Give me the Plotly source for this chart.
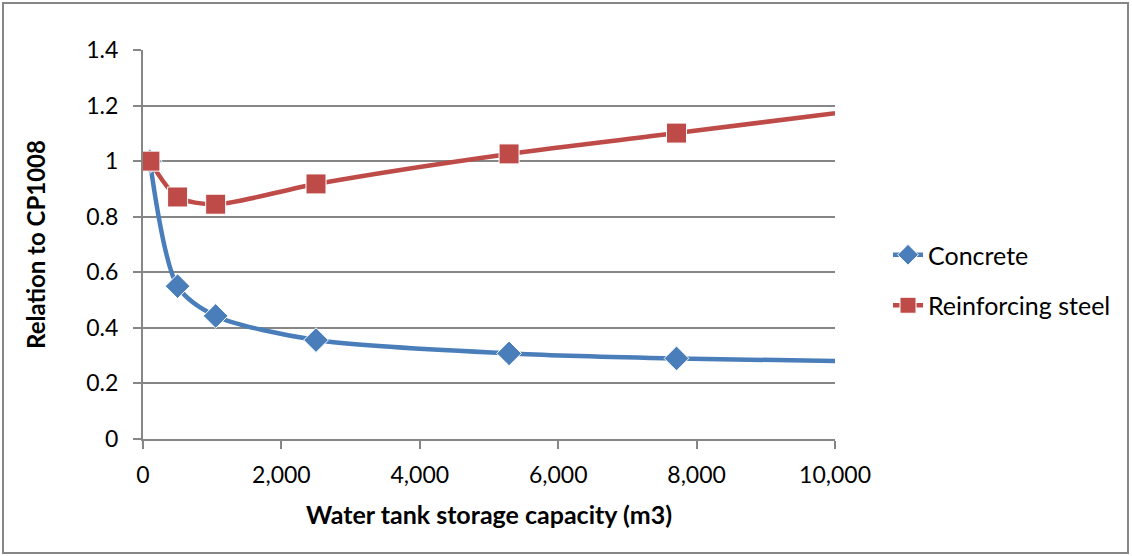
import plotly.graph_objects as go

capacity = [100, 500, 1050, 2500, 5290, 7710, 12000]
concrete = [1.0, 0.55, 0.443, 0.356, 0.308, 0.29, 0.272]
steel = [1.0, 0.871, 0.845, 0.918, 1.026, 1.101, 1.235]
marker_visible = [1, 1, 1, 1, 1, 1, 0]

y_ticks = [0, 0.2, 0.4, 0.6, 0.8, 1.0, 1.2, 1.4]
x_ticks = [0, 2000, 4000, 6000, 8000, 10000]

FONT = "Lato, 'Open Sans', sans-serif"

fig = go.Figure()
fig.add_trace(go.Scatter(
    x=capacity, y=concrete, name="Concrete", mode="lines+markers",
    line=dict(color="#4A7EBB", width=4.5, shape="spline", smoothing=0.8),
    marker=dict(symbol="diamond", size=[19 * v for v in marker_visible], color="#4A7EBB", opacity=1),
    legendgroup="a",
))
fig.add_trace(go.Scatter(
    x=capacity, y=steel, name="Reinforcing steel", mode="lines+markers",
    line=dict(color="#BE4B48", width=4.5, shape="spline", smoothing=0.8),
    marker=dict(symbol="square", size=[20 * v for v in marker_visible], color="#BE4B48", opacity=1),
    legendgroup="b",
))

W, H = 1132, 556
L, R, T, B = 143, 835, 50, 439
pw, ph = R - L, B - T

fig.update_layout(
    width=W, height=H,
    margin=dict(l=L, r=W - R, t=T, b=H - B),
    paper_bgcolor="white", plot_bgcolor="white",
    font=dict(family=FONT, size=23, color="black"),
    showlegend=True,
    legend=dict(x=(888 - L) / pw, y=(B - 280) / ph, xanchor="left", yanchor="middle",
                font=dict(size=25), tracegroupgap=15, itemwidth=30,
                bgcolor="rgba(0,0,0,0)"),
    xaxis=dict(
        range=[0, 10000], tickvals=x_ticks, tickformat=",",
        showgrid=False, showline=True, linecolor="#868686", linewidth=2,
        ticks="outside", ticklen=8, tickcolor="#868686", tickwidth=2,
        ticklabelstandoff=6,
        zeroline=False,
        title=dict(text="<b>Water tank storage capacity (m3)</b>", font=dict(size=25), standoff=20),
    ),
    yaxis=dict(
        range=[0, 1.4], tickvals=y_ticks,
        showgrid=True, gridcolor="#868686", gridwidth=2,
        showline=True, linecolor="#868686", linewidth=2,
        ticks="outside", ticklen=8, tickcolor="#868686", tickwidth=2,
        ticklabelstandoff=10,
        zeroline=False,
        title=dict(text="<b>Relation to CP1008</b>", font=dict(size=24), standoff=34),
    ),
    shapes=[dict(
        type="rect", xref="paper", yref="paper",
        x0=(3 - L) / pw, x1=(1128 - L) / pw,
        y0=(B - 553) / ph, y1=(B - 3) / ph,
        line=dict(color="#868686", width=2), fillcolor="rgba(0,0,0,0)", layer="below",
    )],
)

fig.write_html("out.html")
